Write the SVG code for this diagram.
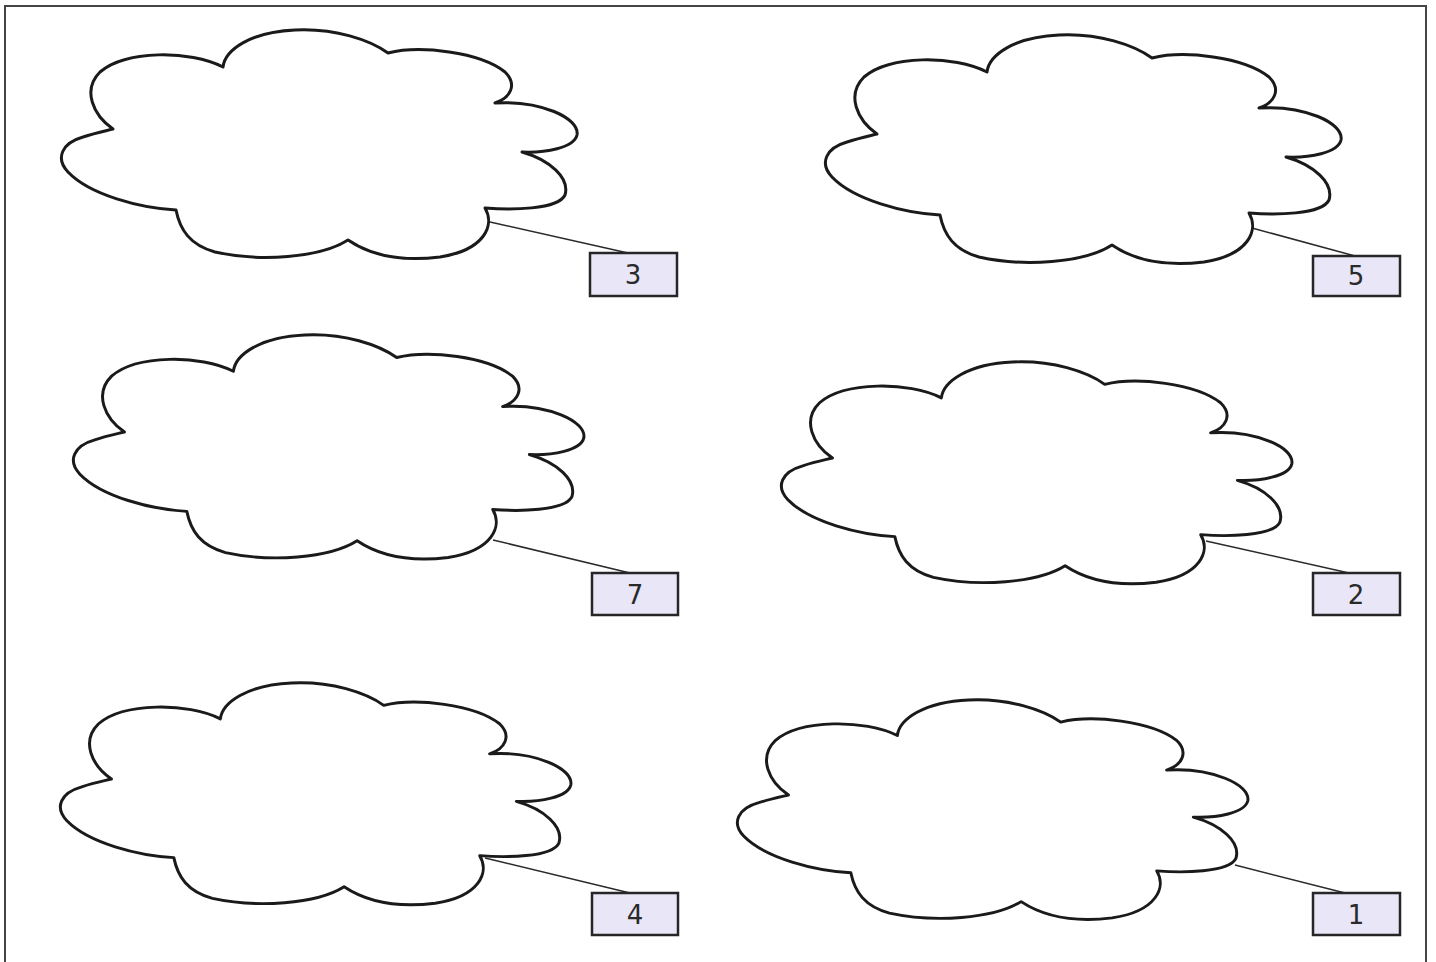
<svg xmlns="http://www.w3.org/2000/svg" width="1436" height="962" viewBox="0 0 1436 962">
  <style>
    .cloud { fill: #ffffff; stroke: #1a1a1a; stroke-width: 3; stroke-linejoin: round; }
    .box { fill: #e8e6f7; stroke: #262626; stroke-width: 2.5; }
    .lbl { font-family: "DejaVu Sans", Verdana, sans-serif; font-size: 26px; fill: #2a2a2a; text-anchor: middle; }
    .conn { stroke: #2a2a2a; stroke-width: 1.5; fill: none; }
  </style>
  <defs>
    <path id="cloudShape" d="M113,129 C93,115 82,90 100,72 C125,50 190,50 223,67 C225,50 250,32 295,30 C335,28 370,40 388,53 C420,45 480,52 505,72 C518,85 510,98 495,103 C540,100 580,118 577,135 C574,148 545,153 522,152 C550,160 570,178 565,195 C558,210 510,210 485,208 C495,225 485,250 440,257 C400,262 370,255 348,240 C320,258 260,262 215,252 C190,245 180,230 176,210 C140,208 90,195 68,172 C55,158 62,143 83,137 C95,133 105,131 113,129 Z"/>
  </defs>
  <rect x="5" y="6" width="1421" height="966" fill="none" stroke="#444444" stroke-width="2"/>

  <g id="connectors">
    <line class="conn" x1="490" y1="222" x2="628" y2="253"/>
    <line class="conn" x1="1252" y1="228" x2="1355" y2="256"/>
    <line class="conn" x1="493" y1="540" x2="630" y2="573"/>
    <line class="conn" x1="1206" y1="541" x2="1349" y2="573"/>
    <line class="conn" x1="485" y1="858" x2="630" y2="893"/>
    <line class="conn" x1="1235" y1="865" x2="1345" y2="893"/>
  </g>

  <g id="node-3">
    <use href="#cloudShape" class="cloud"/>
    <rect class="box" x="590" y="253" width="87" height="43"/>
    <text class="lbl" x="633" y="284">3</text>
  </g>
  <g id="node-5">
    <use href="#cloudShape" class="cloud" transform="translate(764,5)"/>
    <rect class="box" x="1313" y="256" width="87" height="40"/>
    <text class="lbl" x="1356" y="285">5</text>
  </g>
  <g id="node-7">
    <use href="#cloudShape" class="cloud" transform="translate(12,305) translate(58,30) scale(0.99,0.98) translate(-58,-30)"/>
    <rect class="box" x="592" y="573" width="86" height="42"/>
    <text class="lbl" x="635" y="604">7</text>
  </g>
  <g id="node-2">
    <use href="#cloudShape" class="cloud" transform="translate(720,332) translate(58,30) scale(0.99,0.97) translate(-58,-30)"/>
    <rect class="box" x="1313" y="573" width="87" height="42"/>
    <text class="lbl" x="1356" y="604">2</text>
  </g>
  <g id="node-4">
    <use href="#cloudShape" class="cloud" transform="translate(-1,653) translate(58,30) scale(0.99,0.97) translate(-58,-30)"/>
    <rect class="box" x="592" y="893" width="86" height="42"/>
    <text class="lbl" x="635" y="924">4</text>
  </g>
  <g id="node-1">
    <use href="#cloudShape" class="cloud" transform="translate(676,670) translate(58,30) scale(0.99,0.96) translate(-58,-30)"/>
    <rect class="box" x="1313" y="893" width="87" height="42"/>
    <text class="lbl" x="1356" y="924">1</text>
  </g>
</svg>
